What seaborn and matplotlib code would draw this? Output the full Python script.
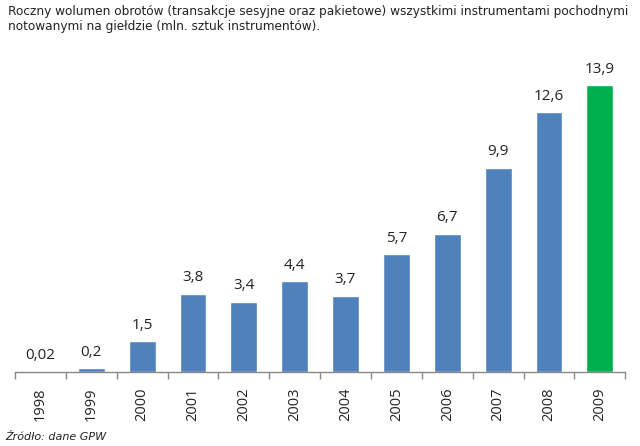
import matplotlib
matplotlib.use("Agg")
import matplotlib.pyplot as plt
import seaborn as sns
import pandas as pd

years = ["1998", "1999", "2000", "2001", "2002", "2003", "2004", "2005", "2006", "2007", "2008", "2009"]
values = [0.02, 0.2, 1.5, 3.8, 3.4, 4.4, 3.7, 5.7, 6.7, 9.9, 12.6, 13.9]
labels = ["0,02", "0,2", "1,5", "3,8", "3,4", "4,4", "3,7", "5,7", "6,7", "9,9", "12,6", "13,9"]
colors = ["#4F81BD"] * 11 + ["#00B050"]

sns.set_theme(style="white")
plt.rcParams['font.family'] = ['DejaVu Sans']

df = pd.DataFrame({"year": years, "value": values})

fig = plt.figure(figsize=(6.4, 4.46), dpi=100)
ax = fig.add_axes([0.0234, 0.166, 0.9536, 0.717])
sns.barplot(data=df, x="year", y="value", hue="year", palette=colors, legend=False,
            width=0.53, ax=ax, saturation=1)
ax.set_ylim(0, 15.5)
ax.set_xlim(-0.5, len(years) - 0.5)
for s in ["top", "right", "left"]:
    ax.spines[s].set_visible(False)
ax.spines["bottom"].set_color("#888888")
ax.spines["bottom"].set_linewidth(1)
ax.set_yticks([])
ax.set_xlabel("")
ax.set_ylabel("")
ax.set_xticks([i for i in range(len(years))])
ax.set_xticklabels(years, rotation=90, fontsize=10.5, family="Open Sans", color="#222222")
ax.tick_params(axis="x", length=0, pad=11)
ax.set_xticks([i - 0.5 for i in range(len(years) + 1)], minor=True)
ax.tick_params(axis="x", which="minor", length=5, color="#888888", width=1, direction="out")
ax.tick_params(axis="x", which="minor", bottom=True)

for i, (v, lab) in enumerate(zip(values, labels)):
    ax.annotate(lab, (i, v), xytext=(0, 6), textcoords="offset points",
                ha="center", va="bottom", fontsize=11, family="Open Sans", color="#222222")

fig.text(0.0125, 0.988, "Roczny wolumen obrotów (transakcje sesyjne oraz pakietowe) wszystkimi instrumentami pochodnymi\nnotowanymi na giełdzie (mln. sztuk instrumentów).",
         ha="left", va="top", fontsize=8.7, color="#222222", linespacing=1.2)
fig.text(0.008, 0.008, "Źródło: dane GPW", ha="left", va="bottom", fontsize=8, style="italic", color="#222222")

fig.savefig("out.png", dpi=100)
